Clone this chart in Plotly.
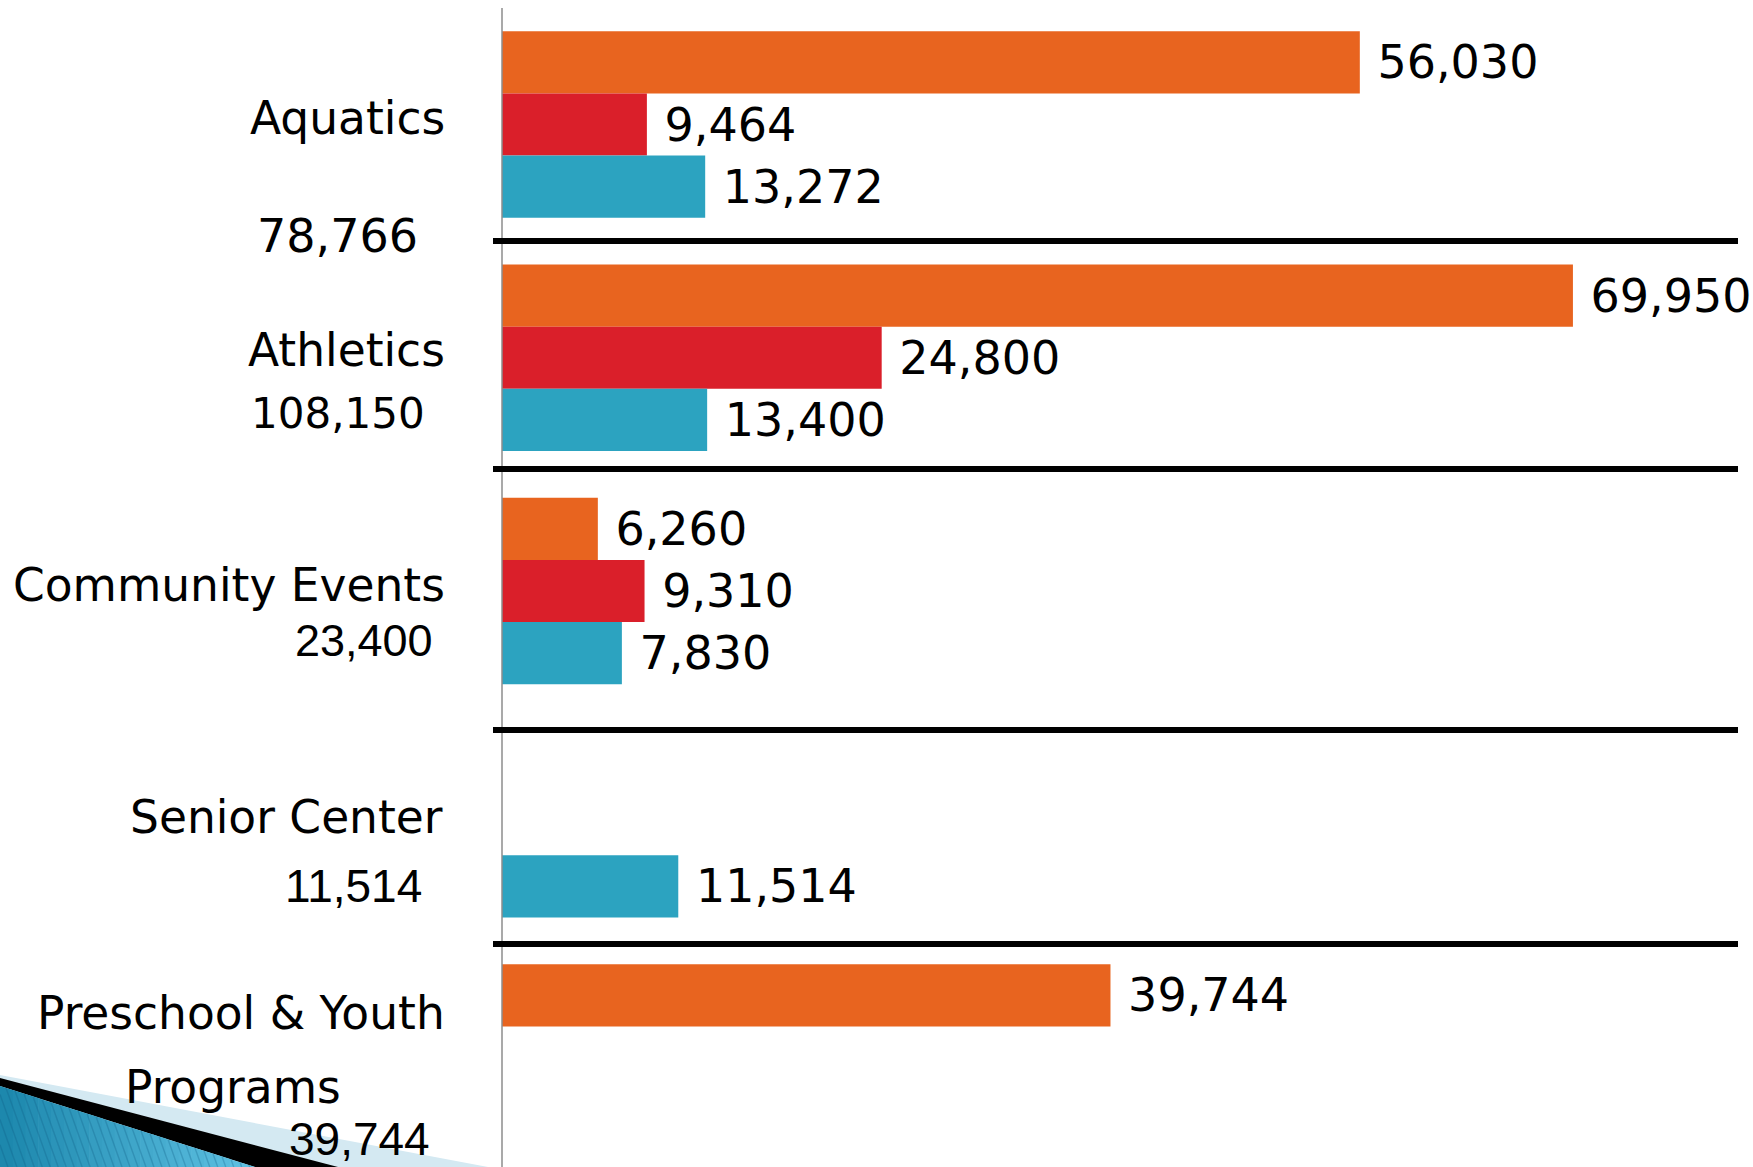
import plotly.graph_objects as go

# ---------------- data ----------------
categories = ["Aquatics", "Athletics", "Community Events", "Senior Center", "Preschool & Youth Programs"]
series_orange = [56030, 69950, 6260, None, 39744]
series_red = [9464, 24800, 9310, None, None]
series_blue = [13272, 13400, 7830, 11514, None]
totals = [78766, 108150, 23400, 11514, 39744]

W, H = 1753, 1167
ORANGE, RED, BLUE = "#E8641F", "#DA1F2A", "#2CA3C0"
LABEL_FONT = "DejaVu Sans"


def X(px):
    return px / W


def Y(py):
    return 1 - py / H


fig = go.Figure()
for name, vals, col in [("Orange", series_orange, ORANGE), ("Red", series_red, RED), ("Blue", series_blue, BLUE)]:
    fig.add_trace(go.Bar(
        y=categories, x=vals, orientation="h", name=name,
        marker=dict(color=col, line=dict(width=0)),
        texttemplate="\u00a0%{x:,}", textposition="outside",
        textfont=dict(family=LABEL_FONT, size=46, color="black"),
        cliponaxis=False, constraintext="none", hoverinfo="skip",
    ))

# pixel scale: value 0 at x=502px, 0.01531 px per unit
k = 0.01531
x0 = 502
cat_top, cat_step = 124.5, 233.25

fig.update_layout(
    width=W, height=H, autosize=False,
    margin=dict(l=0, r=0, t=0, b=0),
    paper_bgcolor="white", plot_bgcolor="white",
    barmode="group", bargap=0.2, bargroupgap=0,
    showlegend=False,
    xaxis=dict(range=[-x0 / k, (W - x0) / k], visible=False, showgrid=False, zeroline=False),
    yaxis=dict(type="category", categoryorder="array", categoryarray=categories,
               range=[(H - cat_top) / cat_step, -cat_top / cat_step],
               visible=False, showgrid=False, zeroline=False),
)

shapes = []
# vertical axis line
shapes.append(dict(type="line", xref="paper", yref="paper", x0=X(502), x1=X(502), y0=Y(8), y1=Y(H),
                   line=dict(color="#8c8c8c", width=1.5), layer="above"))
# separators
for py in [241, 469, 730, 944]:
    shapes.append(dict(type="line", xref="paper", yref="paper", x0=X(493), x1=X(1738), y0=Y(py), y1=Y(py),
                       line=dict(color="black", width=6), layer="above"))


def path(points):
    return "M " + " L ".join(f"{X(a):.5f},{Y(b):.5f}" for a, b in points) + " Z"


# bottom-left decoration
shapes.append(dict(type="path", xref="paper", yref="paper", path=path([(0, 1075), (488, H), (0, H)]),
                   fillcolor="#D4E9F2", line=dict(width=0), layer="below"))
shapes.append(dict(type="path", xref="paper", yref="paper", path=path([(0, 1078), (338, H), (255, H), (0, 1086)]),
                   fillcolor="black", line=dict(width=0), layer="below"))


def lerp(c1, c2, t):
    return "#" + "".join(f"{int(round(a + (b - a) * t)):02x}" for a, b in zip(c1, c2))


c_left, c_right = (27, 134, 172), (96, 195, 228)
nb = 20
top = lambda x: 1086 + 81 / 255 * x
for i in range(nb):
    a = 255 * i / nb
    b = 255 * (i + 1) / nb
    shapes.append(dict(type="path", xref="paper", yref="paper",
                       path=path([(a, top(a)), (b + 0.6, top(b + 0.6)), (b + 0.6, H), (a, H)]),
                       fillcolor=lerp(c_left, c_right, (i + 0.5) / nb), line=dict(width=0), layer="below"))
# diagonal stripes
slope = 2.8
for s in range(-30, 255, 9):
    if s >= 0:
        sx, sy = s, top(s)
    else:
        sx, sy = 0, top(0) - s * slope
        if sy >= H:
            continue
    ex = sx + (H - sy) / slope
    shapes.append(dict(type="line", xref="paper", yref="paper", x0=X(sx), y0=Y(sy), x1=X(ex), y1=Y(H),
                       line=dict(color="rgba(15,90,130,0.28)", width=1.4), layer="below"))
fig.update_layout(shapes=shapes)

# left labels
ann = []


def label(text, right, cy, size, family=LABEL_FONT, anchor="right"):
    ann.append(dict(text=text, xref="paper", yref="paper", x=X(right), y=Y(cy), xanchor=anchor, yanchor="middle",
                    showarrow=False, font=dict(family=family, size=size, color="black")))


fmt = [f"{t:,}" for t in totals]
label(categories[0], 447, 118.5, 45.5)
label(fmt[0], 420, 236, 46)
label(categories[1], 447, 350.5, 45.5)
label(fmt[1], 427, 414, 42)
label(categories[2], 447, 585.5, 45.5)
label(fmt[2], 435, 641, 45, family="Liberation Sans")
label(categories[3], 445, 817.5, 45.5)
label(fmt[3], 424, 886, 46, family="Liberation Sans")
label("Preschool & Youth", 447, 1013.5, 45.5)
label("Programs", 233, 1087.5, 45.5, anchor="center")
label(fmt[4], 432, 1139, 46, family="Liberation Sans")
fig.update_layout(annotations=ann)

fig.write_html("out.html", config={"displayModeBar": False},
               post_script="document.body.style.margin='0';document.body.style.overflow='hidden';")
